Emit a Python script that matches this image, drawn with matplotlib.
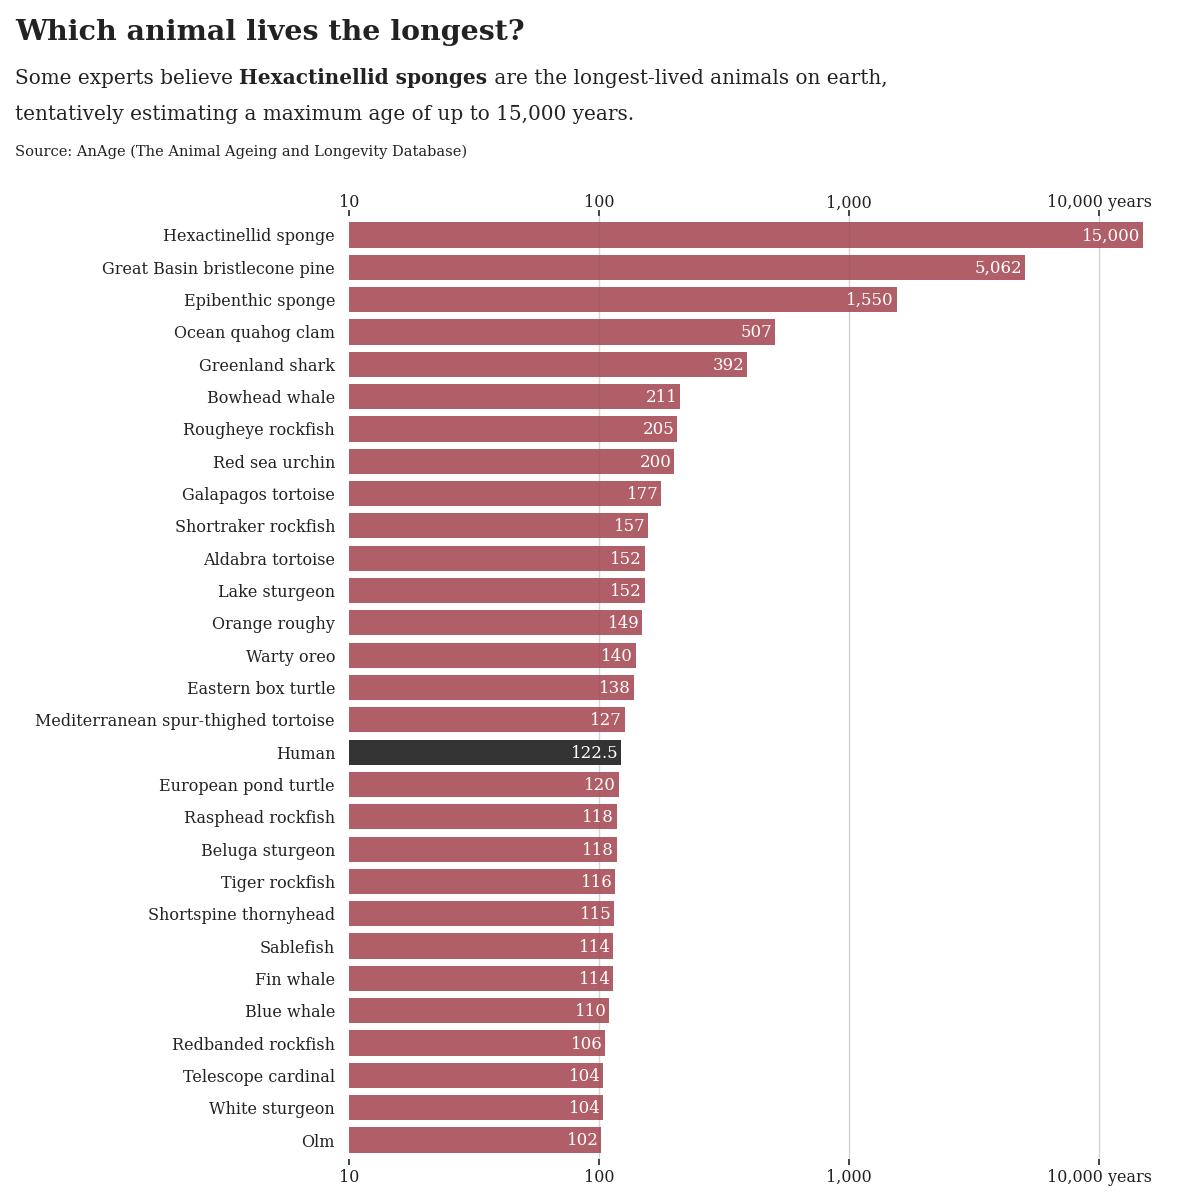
import numpy as np
import matplotlib.pyplot as plt

animals = ['Hexactinellid sponge', 'Great Basin bristlecone pine', 'Epibenthic sponge',
           'Ocean quahog clam', 'Greenland shark', 'Bowhead whale', 'Rougheye rockfish',
           'Red sea urchin', 'Galapagos tortoise', 'Shortraker rockfish', 'Aldabra tortoise',
           'Lake sturgeon', 'Orange roughy', 'Warty oreo', 'Eastern box turtle',
           'Mediterranean spur-thighed tortoise', 'Human', 'European pond turtle',
           'Rasphead rockfish', 'Beluga sturgeon', 'Tiger rockfish', 'Shortspine thornyhead',
           'Sablefish', 'Fin whale', 'Blue whale', 'Redbanded rockfish', 'Telescope cardinal',
           'White sturgeon', 'Olm']
max_age = [15000, 5062, 1550, 507, 392, 211, 205, 200, 177, 157, 152, 152, 149, 140, 138,
           127, 122.5, 120, 118, 118, 116, 115, 114, 114, 110, 106, 104, 104, 102]
age_labels = ['15,000', '5,062', '1,550', '507', '392', '211', '205', '200', '177', '157',
              '152', '152', '149', '140', '138', '127', '122.5', '120', '118', '118', '116',
              '115', '114', '114', '110', '106', '104', '104', '102']
ticks = [10, 100, 1000, 10000]
tick_labels = ['10', '100', '1,000', '10,000 years']

SERIF = 'DejaVu Serif'
RED = '#a2434d'
DARK = '#333333'
TXT = '#222222'

W, H = 1186, 1200
fig = plt.figure(figsize=(W / 100, H / 100), dpi=100)

# axes placed in pixel terms: 10 at x=349, 250 px per decade
x0, x1 = 349, 1163
y_top, y_bot = 215.6, 1159.4
ax = fig.add_axes([x0 / W, 1 - y_bot / H, (x1 - x0) / W, (y_bot - y_top) / H])

ax.set_xscale('log')
ax.set_xlim(10, 18000)
ax.set_ylim(len(animals) - 0.4, -0.6)

for t in ticks[1:]:
    ax.axvline(t, color='#d4d4d4', lw=1, zorder=0)

ypos = np.arange(len(animals))
colors = [DARK if a == 'Human' else RED for a in animals]
alphas = [1.0 if a == 'Human' else 0.85 for a in animals]
for y, v, c, al, lab in zip(ypos, max_age, colors, alphas, age_labels):
    ax.barh(y, v - 10, left=10, height=0.78, color=c, alpha=al, zorder=2)
    ax.text(v * 0.975, y + 0.03, lab, ha='right', va='center', color='white',
            fontsize=12, family=SERIF, zorder=3)

ax.set_yticks(ypos)
ax.set_yticklabels(animals, fontsize=11.5, family=SERIF, color=TXT)
ax.tick_params(axis='y', length=0, pad=10)

ax.set_xticks(ticks)
ax.set_xticklabels(tick_labels, fontsize=11.5, family=SERIF, color=TXT)
ax.xaxis.set_minor_locator(plt.NullLocator())
ax.tick_params(axis='x', length=4, width=1.2, color=TXT, pad=3, direction='out')

# top axis with its own padding
top = ax.secondary_xaxis('top')
top.set_xticks(ticks)
top.set_xticklabels(tick_labels, fontsize=11.5, family=SERIF, color=TXT)
top.xaxis.set_minor_locator(plt.NullLocator())
top.tick_params(axis='x', length=4, width=1.2, color=TXT, pad=-1, direction='out')
top.spines['top'].set_visible(False)

for s in ax.spines.values():
    s.set_visible(False)

fig.text(15 / W, 1 - 32 / H, 'Which animal lives the longest?', fontsize=20.5,
         fontweight='bold', family=SERIF, color=TXT, va='center')
fig.text(15 / W, 1 - 78 / H, 'Some experts believe ', fontsize=14.4, family=SERIF,
         color=TXT, va='center')
r = fig.canvas.get_renderer()
bb = fig.texts[-1].get_window_extent(r)
fig.text(bb.x1 / W, 1 - 78 / H, 'Hexactinellid sponges', fontsize=14.4, family=SERIF,
         fontweight='bold', color=TXT, va='center')
bb2 = fig.texts[-1].get_window_extent(r)
fig.text(bb2.x1 / W, 1 - 78 / H, ' are the longest-lived animals on earth,', fontsize=14.4,
         family=SERIF, color=TXT, va='center')
fig.text(15 / W, 1 - 114 / H, 'tentatively estimating a maximum age of up to 15,000 years.',
         fontsize=14.4, family=SERIF, color=TXT, va='center')
fig.text(15 / W, 1 - 152 / H, 'Source: AnAge (The Animal Ageing and Longevity Database)',
         fontsize=10.5, family=SERIF, color=TXT, va='center')

fig.savefig('out.png', dpi=100)
